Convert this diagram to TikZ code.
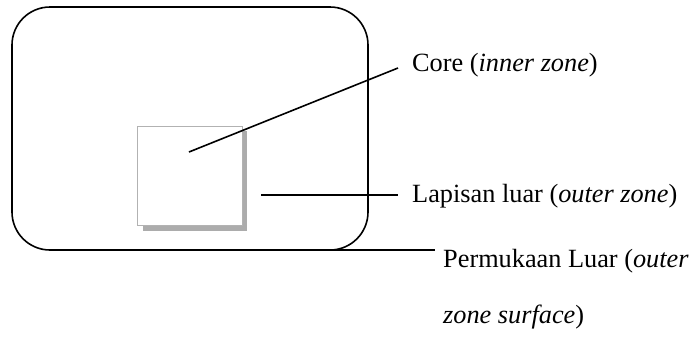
\documentclass[tikz,border=0pt]{standalone}
\usepackage{fontspec}
\setmainfont{Liberation Serif}
\begin{document}
\begin{tikzpicture}[x=1pt,y=-1pt,
  lbl/.style={anchor=base west,inner sep=0pt,font=\fontsize{26.3}{30}\selectfont},
  conn/.style={line width=1.6pt}]
\useasboundingbox (0,0) rectangle (697,338);
% outer zone
\draw[line width=1.6pt,rounded corners=38pt] (12,7) rectangle (368,250);
% core with shadow
\fill[gray!65] (143,131) rectangle (247,231);
\draw[gray!60,fill=white,line width=0.8pt] (137,126) rectangle (242,225);
\coordinate (coreC) at (189,152);
\coordinate (outerP) at (261,195);
\coordinate (surfP) at (320,250);
% labels
\node[lbl] (core) at (412,71) {Core (\textit{inner zone})};
\node[lbl] (lap) at (412,202) {Lapisan luar (\textit{outer zone})};
\node[lbl] (perm) at (443,267) {Permukaan Luar (\textit{outer}};
\node[lbl] (perm2) at (443,323) {\textit{zone surface})};
% connectors
\draw[conn] (coreC) -- (398,68) coordinate (c1);
\draw[conn] (outerP) -- (398,195) coordinate (c2);
\draw[conn] (surfP) -- (435,250) coordinate (c3);
\end{tikzpicture}
\end{document}
